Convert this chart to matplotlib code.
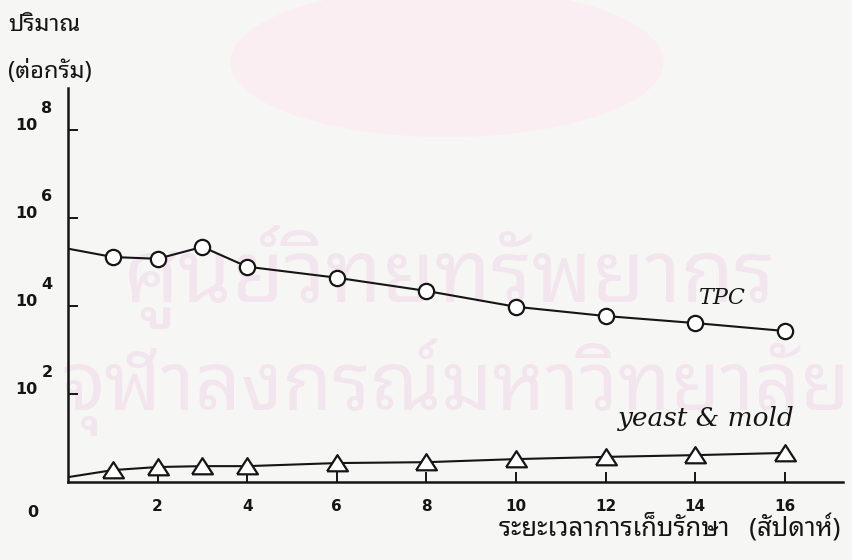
import matplotlib
matplotlib.use("Agg")
import matplotlib.pyplot as plt
from matplotlib.patches import Ellipse

# storage time (weeks) and log10 counts per gram
weeks = [0, 1, 2, 3, 4, 6, 8, 10, 12, 14, 16]
tpc_log = [5.30, 5.11, 5.07, 5.34, 4.89, 4.64, 4.34, 3.98, 3.77, 3.61, 3.43]
ym_log = [0.11, 0.27, 0.34, 0.36, 0.36, 0.43, 0.45, 0.52, 0.57, 0.61, 0.66]

x_ticks = [2, 4, 6, 8, 10, 12, 14, 16]
y_ticks = [2, 4, 6, 8]

thai = ['Noto Sans Thai Looped', 'DejaVu Sans']
ink = '#151515'
paper = '#f6f6f4'

fig = plt.figure(figsize=(8.52, 5.6), dpi=100, facecolor=paper)
ax = fig.add_axes([0.0798, 0.1393, 0.9096, 0.7036])
ax.patch.set_alpha(0)

# faint watermark of the library stamp behind the chart
fig.add_artist(Ellipse((447 / 852, 1 - 62 / 560), 433 / 852, 150 / 560,
                       transform=fig.transFigure, facecolor='#fbeef3',
                       edgecolor='none', zorder=-2))
fig.text(0.528, 1 - 302 / 560, 'ศูนย์วิทยทรัพยากร', family=thai, fontsize=62,
         color='#f3e5ee', ha='center', va='baseline', zorder=-1)
fig.text(0.535, 1 - 410 / 560, 'จุฬาลงกรณ์มหาวิทยาลัย', family=thai, fontsize=58,
         color='#f3e5ee', ha='center', va='baseline', zorder=-1)

ax.plot(weeks, tpc_log, color=ink, lw=1.5, marker='o', markersize=11,
        markerfacecolor='white', markeredgecolor=ink, markeredgewidth=1.6,
        markevery=slice(1, None), zorder=3)
tri = [(-1, -0.75), (1, -0.75), (0, 0.8), (-1, -0.75)]
ax.plot(weeks, ym_log, color=ink, lw=1.5, marker=tri, markersize=15,
        markerfacecolor='white', markeredgecolor=ink, markeredgewidth=1.6,
        markevery=slice(1, None), zorder=3)

ax.text(14.6, 4.18, 'TPC', family='DejaVu Serif', style='italic',
        fontsize=16, color=ink, ha='center', va='center')
ax.text(14.26, 1.45, 'yeast & mold', family='DejaVu Serif', style='italic',
        fontsize=19, color=ink, ha='center', va='center')

ax.set_xlim(0, 17.3)
ax.set_ylim(0, 8.95)
for side in ['top', 'right']:
    ax.spines[side].set_visible(False)
for side in ['left', 'bottom']:
    ax.spines[side].set_linewidth(1.8)
    ax.spines[side].set_color(ink)

ax.set_xticks(x_ticks)
ax.set_xticklabels([str(t) for t in x_ticks], fontsize=11, fontweight='bold', color=ink)
ax.tick_params(axis='x', direction='in', length=7, width=1.4, pad=12, colors=ink)
ax.set_yticks(y_ticks)
ax.set_yticklabels([])
ax.tick_params(axis='y', direction='in', length=7, width=1.4, colors=ink)

# powers of ten written as "10" with a raised exponent
for v in y_ticks:
    ax.annotate('10', xy=(0, v), xycoords=ax.get_yaxis_transform(),
                xytext=(-42, 4), textcoords='offset pixels', ha='center', va='center',
                fontsize=11.5, fontweight='bold', color=ink)
    ax.annotate(str(v), xy=(0, v), xycoords=ax.get_yaxis_transform(),
                xytext=(-21, 21), textcoords='offset pixels', ha='center', va='center',
                fontsize=11.5, fontweight='bold', color=ink)
ax.annotate('0', xy=(0, 0), xycoords='data', xytext=(-35, -31),
            textcoords='offset pixels', ha='center', va='center',
            fontsize=11.5, fontweight='bold', color=ink)

fig.text(8 / 852, 1 - 25 / 560, 'ปริมาณ', family=thai, fontsize=17,
         fontweight='bold', color=ink, ha='left', va='center')
fig.text(8 / 852, 1 - 72 / 560, '(ต่อกรัม)', family=thai, fontsize=17,
         fontweight='bold', color=ink, ha='left', va='center')
fig.text(840 / 852, 1 - 527 / 560, 'ระยะเวลาการเก็บรักษา   (สัปดาห์)', family=thai,
         fontsize=18.5, fontweight='bold', color=ink, ha='right', va='center')

fig.savefig('out.png', dpi=100, facecolor=paper)
